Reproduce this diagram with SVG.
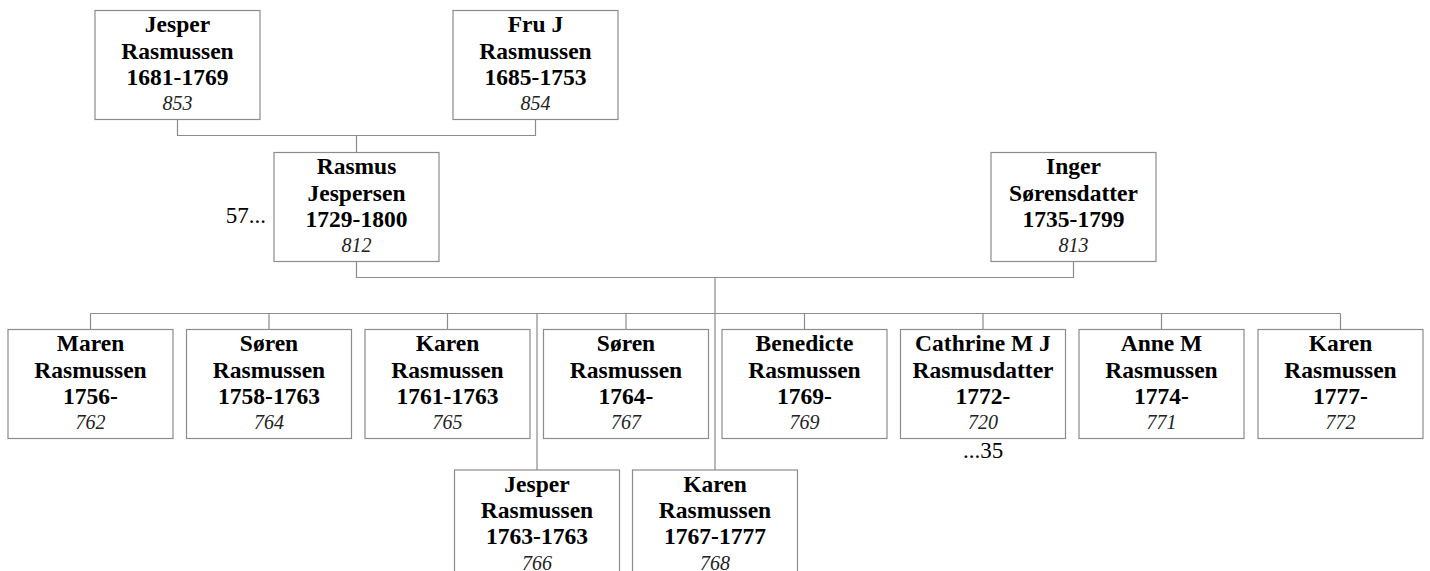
<svg xmlns="http://www.w3.org/2000/svg" width="1430" height="571" viewBox="0 0 1430 571">
<style>
.box{fill:#fff;stroke:#8c8c8c;stroke-width:1.2}
.n{font-family:"Liberation Serif","Times New Roman",serif;font-weight:bold;font-size:23.5px;text-anchor:middle;fill:#000}
.id{font-family:"Liberation Serif","Times New Roman",serif;font-style:italic;font-size:20px;text-anchor:middle;fill:#222}
.m{font-family:"Liberation Serif","Times New Roman",serif;font-size:23px;fill:#000}
.c{fill:none;stroke:#8c8c8c;stroke-width:1.2}
</style>
<rect width="1430" height="571" fill="#fff"/>
<g id="connectors">
<path class="c" d="M177.5 120V135.5H535.5V120M356.5 135.5V152.5"/>
<path class="c" d="M356.5 261.5V277.5H1073.5V261.5M715 277.5V470"/>
<path class="c" d="M90.5 313.5H1340.5M90.5 313.5V329.5M269 313.5V329.5M447.5 313.5V329.5M626 313.5V329.5M804.5 313.5V329.5M983 313.5V329.5M1161.5 313.5V329.5M1340.5 313.5V329.5M537 313.5V470"/>
</g>
<g id="n853"><rect class="box" x="95" y="10.5" width="165" height="109"/><text class="n" x="177.5" y="32">Jesper</text><text class="n" x="177.5" y="58.5">Rasmussen</text><text class="n" x="177.5" y="84.5">1681-1769</text><text class="id" x="177.5" y="110">853</text></g>
<g id="n854"><rect class="box" x="453" y="10.5" width="165" height="109"/><text class="n" x="535.5" y="32">Fru J</text><text class="n" x="535.5" y="58.5">Rasmussen</text><text class="n" x="535.5" y="84.5">1685-1753</text><text class="id" x="535.5" y="110">854</text></g>
<g id="n812"><rect class="box" x="274" y="152.5" width="165" height="109"/><text class="n" x="356.5" y="174">Rasmus</text><text class="n" x="356.5" y="200.5">Jespersen</text><text class="n" x="356.5" y="226.5">1729-1800</text><text class="id" x="356.5" y="252">812</text><text class="m" x="266" y="223" text-anchor="end">57...</text></g>
<g id="n813"><rect class="box" x="991" y="152.5" width="165" height="109"/><text class="n" x="1073.5" y="174">Inger</text><text class="n" x="1073.5" y="200.5">Sørensdatter</text><text class="n" x="1073.5" y="226.5">1735-1799</text><text class="id" x="1073.5" y="252">813</text></g>
<g id="n762"><rect class="box" x="8" y="329.5" width="165" height="109"/><text class="n" x="90.5" y="351">Maren</text><text class="n" x="90.5" y="377.5">Rasmussen</text><text class="n" x="90.5" y="403.5">1756-</text><text class="id" x="90.5" y="429">762</text></g>
<g id="n764"><rect class="box" x="186.5" y="329.5" width="165" height="109"/><text class="n" x="269" y="351">Søren</text><text class="n" x="269" y="377.5">Rasmussen</text><text class="n" x="269" y="403.5">1758-1763</text><text class="id" x="269" y="429">764</text></g>
<g id="n765"><rect class="box" x="365" y="329.5" width="165" height="109"/><text class="n" x="447.5" y="351">Karen</text><text class="n" x="447.5" y="377.5">Rasmussen</text><text class="n" x="447.5" y="403.5">1761-1763</text><text class="id" x="447.5" y="429">765</text></g>
<g id="n767"><rect class="box" x="543.5" y="329.5" width="165" height="109"/><text class="n" x="626" y="351">Søren</text><text class="n" x="626" y="377.5">Rasmussen</text><text class="n" x="626" y="403.5">1764-</text><text class="id" x="626" y="429">767</text></g>
<g id="n769"><rect class="box" x="722" y="329.5" width="165" height="109"/><text class="n" x="804.5" y="351">Benedicte</text><text class="n" x="804.5" y="377.5">Rasmussen</text><text class="n" x="804.5" y="403.5">1769-</text><text class="id" x="804.5" y="429">769</text></g>
<g id="n720"><rect class="box" x="900.5" y="329.5" width="165" height="109"/><text class="n" x="983" y="351">Cathrine M J</text><text class="n" x="983" y="377.5">Rasmusdatter</text><text class="n" x="983" y="403.5">1772-</text><text class="id" x="983" y="429">720</text><text class="m" x="983" y="458" text-anchor="middle">...35</text></g>
<g id="n771"><rect class="box" x="1079" y="329.5" width="165" height="109"/><text class="n" x="1161.5" y="351">Anne M</text><text class="n" x="1161.5" y="377.5">Rasmussen</text><text class="n" x="1161.5" y="403.5">1774-</text><text class="id" x="1161.5" y="429">771</text></g>
<g id="n772"><rect class="box" x="1258" y="329.5" width="165" height="109"/><text class="n" x="1340.5" y="351">Karen</text><text class="n" x="1340.5" y="377.5">Rasmussen</text><text class="n" x="1340.5" y="403.5">1777-</text><text class="id" x="1340.5" y="429">772</text></g>
<g id="n766"><rect class="box" x="454.5" y="470" width="165" height="109"/><text class="n" x="537" y="491.5">Jesper</text><text class="n" x="537" y="518">Rasmussen</text><text class="n" x="537" y="544">1763-1763</text><text class="id" x="537" y="569.5">766</text></g>
<g id="n768"><rect class="box" x="632.5" y="470" width="165" height="109"/><text class="n" x="715" y="491.5">Karen</text><text class="n" x="715" y="518">Rasmussen</text><text class="n" x="715" y="544">1767-1777</text><text class="id" x="715" y="569.5">768</text></g>
</svg>
